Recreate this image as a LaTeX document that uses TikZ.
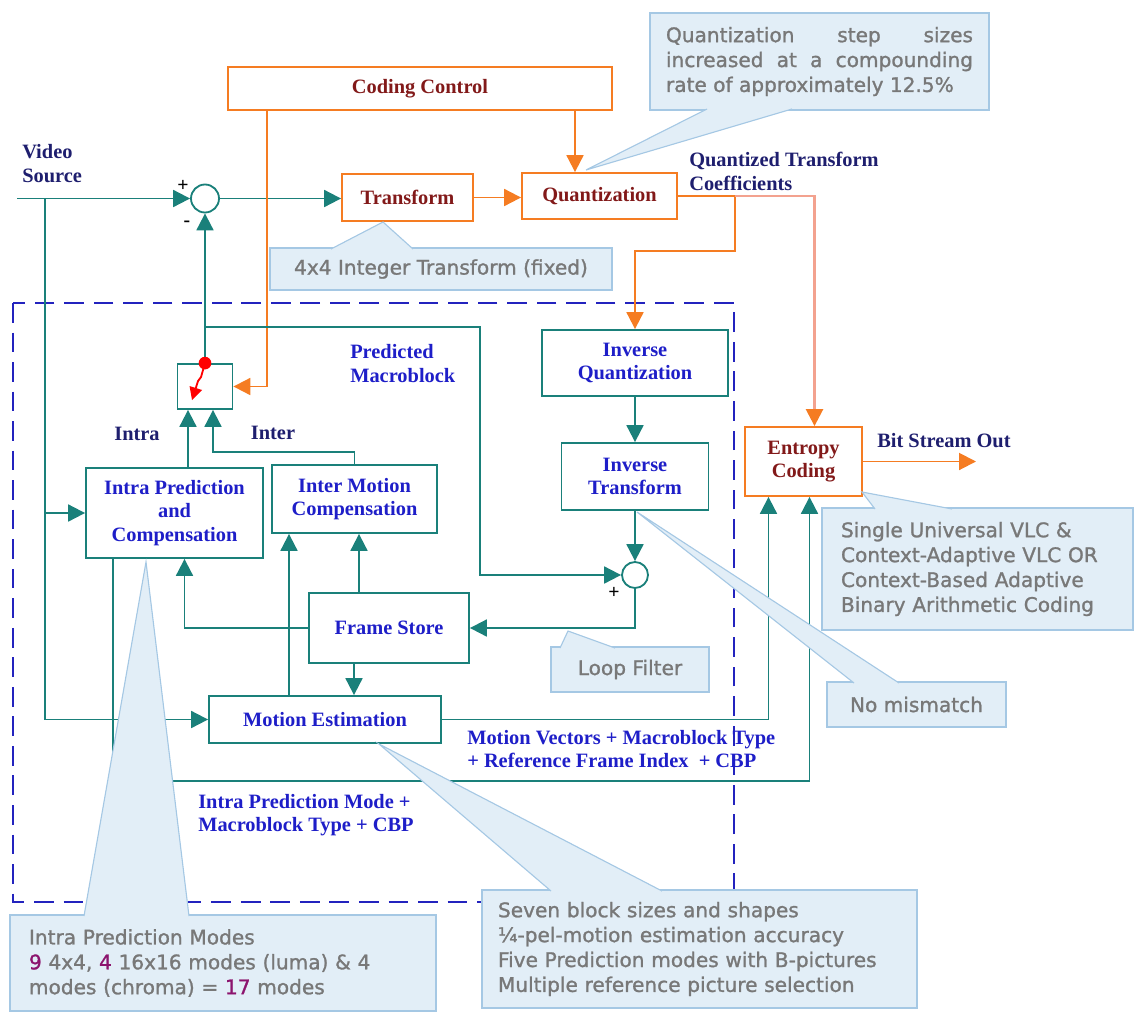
\documentclass[tikz,border=0pt]{standalone}
\usepackage{fontspec}
\setmainfont{Liberation Serif}
\newfontfamily\notefont{DejaVu Sans}[BoldFont={DejaVu Sans}, BoldFeatures={FakeBold=1.2}]
\usetikzlibrary{arrows.meta, calc}

\definecolor{lineteal}{RGB}{26,128,122}
\definecolor{boxorange}{RGB}{245,124,34}
\definecolor{salmon}{RGB}{243,162,143}
\definecolor{textblue}{RGB}{30,30,200}
\definecolor{textnavy}{RGB}{30,30,110}
\definecolor{textred}{RGB}{130,25,25}
\definecolor{notefill}{RGB}{226,238,247}
\definecolor{noteedge}{RGB}{165,200,228}
\definecolor{notetext}{RGB}{120,120,120}
\definecolor{dashblue}{RGB}{35,35,190}
\definecolor{modepurple}{RGB}{140,20,110}

\newcommand\blockfont{\bfseries\fontsize{14.5}{16.5}\selectfont}
\newcommand\notesize{\notefont\bfseries\fontsize{14.3}{17.7}\selectfont}

\tikzset{
  wh/.style 2 args={minimum width=#1*0.025cm, minimum height=#2*0.025cm},
  tealbox/.style={draw=lineteal, line width=1.3pt, fill=white, text=textblue,
    font=\blockfont, align=center, inner sep=1pt},
  orangebox/.style={tealbox, draw=boxorange, text=textred},
  sumnode/.style={circle, draw=lineteal, line width=1.3pt, fill=white,
    minimum size=28*0.025cm, inner sep=0pt},
  lbl/.style={font=\blockfont, text=textnavy, align=left, inner sep=0pt},
  bluelbl/.style={lbl, text=textblue},
  sign/.style={font=\bfseries\fontsize{14}{14}\selectfont, inner sep=0pt},
  tline/.style={draw=lineteal, line width=1.4pt},
  flow/.style={tline, -{Triangle[length=12pt,width=12pt]}},
  oline/.style={draw=boxorange, line width=1.4pt},
  oflow/.style={oline, -{Triangle[length=12pt,width=12pt]}},
  sflow/.style={draw=salmon, line width=1.8pt,
    -{Triangle[length=12pt,width=12pt,color=boxorange]}},
  note/.style={fill=notefill, draw=noteedge, line width=0.8pt, text=notetext,
    font=\notesize, inner sep=0pt, align=center}
}

\begin{document}
\begin{tikzpicture}[x=0.025cm, y=-0.025cm]
    \useasboundingbox (0,0) rectangle (1135,1013);

    % prediction loop frame
    \draw[dashblue, line width=1.5pt, dash pattern=on 14pt off 7pt] (13,303) rectangle (734,902);

    % blocks
    \node[orangebox, wh={384}{43}] (cc) at (420,88.5) {Coding Control};
    \node[sumnode] (sum) at (205,198.5) {};
    \node[orangebox, wh={131}{47}] (tr) at (407.5,197.5) {Transform};
    \node[orangebox, wh={155}{46}] (qz) at (599.5,196) {Quantization};
    \node[tealbox, wh={186}{66}] (iq) at (635,363) {Inverse\\Quantization};
    \node[tealbox, wh={147}{67}] (it) at (635,476.5) {Inverse\\Transform};
    \node[sumnode, minimum size=26*0.025cm] (sum2) at (635,575) {};
    \node[orangebox, wh={117}{69}] (ec) at (803.5,461.5) {Entropy\\Coding};
    \node[tealbox, wh={177}{90}] (ip) at (174.5,513) {Intra Prediction\\and\\Compensation};
    \node[tealbox, wh={165}{68}] (im) at (354.5,499) {Inter Motion\\Compensation};
    \node[tealbox, wh={160}{70}] (fs) at (389,628) {Frame Store};
    \node[tealbox, wh={232}{47}] (me) at (325,719.5) {Motion Estimation};
    \node[tealbox, wh={55}{45}] (sw) at (205,386.5) {};

    % free ends and bends
    \coordinate (vs) at (17,198.5);
    \coordinate (vtap) at (45,198.5);
    \coordinate (ctl) at (267,110);
    \coordinate (qin) at (575,110);
    \coordinate (qtap) at (735,196);
    \coordinate (qbend) at (735,251);
    \coordinate (ptap) at (205,327);
    \coordinate (pright) at (480,327);
    \coordinate (ecq) at ($(ec.north)+(11,0)$);
    \coordinate (swa) at ($(sw.south)+(-17,0)$);
    \coordinate (swb) at ($(sw.south)+(8,0)$);
    \coordinate (ipin) at ($(ip.south)+(10,0)$);
    \coordinate (ipout) at ($(ip.south)+(-61.5,0)$);
    \coordinate (imfs) at ($(im.south)+(4.5,0)$);
    \coordinate (imme) at ($(im.south)+(-65.5,0)$);
    \coordinate (mefs) at ($(me.north)+(29,0)$);
    \coordinate (ecme) at ($(ec.south)+(-35,0)$);
    \coordinate (ecip) at ($(ec.south)+(6,0)$);
    \coordinate (bso) at (976,461.5);

    % forward path
    \draw[flow] (vs) -- (sum.west);
    \draw[flow] (vtap) |- (me.west);
    \draw[flow] (vtap |- ip.west) -- (ip.west);
    \draw[flow] (sum.east) -- (sum.east -| tr.west);
    \draw[oflow] (tr.east) -- (tr.east -| qz.west);
    \draw[oflow] (qin) -- (qin |- qz.north);
    \draw[oflow] (ctl) |- (sw.east);
    \draw[oline] (qz.east) -- (qtap);
    \draw[oflow] (qtap) -- (qbend) -| (iq.north);
    \draw[sflow] (qtap) -| (ecq);
    \draw[oflow] (ec.east) -- (bso);

    % reconstruction loop
    \draw[flow] (iq) -- (it);
    \draw[flow] (it) -- (sum2);
    \draw[flow] (sum2.south) |- (fs.east);
    \draw[flow] (sw.north) -- (sum.south);
    \draw[flow] (ptap) -- (pright) |- (sum2.west);
    \draw[flow] (ip.north -| swa) -- (swa);
    \draw[flow] (im.north) -- ++(0,-12) -| (swb);
    \draw[flow] (fs.west) -| (ipin);
    \draw[flow] (fs.north -| imfs) -- (imfs);
    \draw[flow] (me.north -| imme) -- (imme);
    \draw[flow] (fs.south -| mefs) -- (mefs);
    \draw[flow] (me.east) -| (ecme);
    \draw[flow] (ipout) -- ++(0,222) -| (ecip);

    % switch
    \fill[red] (sw.north) circle (4.5pt);
    \draw[red, line width=1.3pt, -{Triangle[length=9pt,width=9pt]}] (sw.north) -- ++(-4,14) -- ++(-3,4) -- ++(-6,19);

    % labels
    \node[lbl, anchor=west] (vsrc) at (22,163.5) {Video\\Source};
    \node[lbl, anchor=west] (qtc) at (689,171.5) {Quantized Transform\\Coefficients};
    \node[lbl, anchor=west] (bits) at (877,441) {Bit Stream Out};
    \node[lbl] (intra) at (137,434) {Intra};
    \node[lbl] (inter) at (273,433) {Inter};
    \node[bluelbl, anchor=west] (pmb) at (350,363.5) {Predicted\\Macroblock};
    \node[bluelbl, anchor=west] (mvl) at (467,749) {Motion Vectors + Macroblock Type\\+ Reference Frame Index~ + CBP};
    \node[bluelbl, anchor=west] (ipl) at (198,815) {Intra Prediction Mode +\\Macroblock Type + CBP};
    \node[sign] (p1) at (183,186) {+};
    \node[sign] (m1) at (187,224) {-};
    \node[sign] (p2) at (614,593) {+};

    % callouts
    \node[note, wh={339}{97}, text width=307*0.025cm, align=justify] (qnote) at (819.5,61.5)
      {Quantization step sizes\linebreak increased at a compounding\linebreak rate of approximately 12.5\%};
    \node[note, wh={342}{42}] (tnote) at (441,269) {4x4 Integer Transform (fixed)};
    \node[note, wh={158}{45}] (lfnote) at (630,669.5) {Loop Filter};
    \node[note, wh={179}{45}] (nmnote) at (916.5,704.5) {No mismatch};
    \node[note, wh={311}{122}, text width=273*0.025cm, align=left] (ecnote) at (977.5,569)
      {Single Universal VLC \&\\Context-Adaptive VLC OR\\Context-Based Adaptive\\Binary Arithmetic Coding};
    \node[note, wh={435}{118}, text width=403*0.025cm, align=left] (menote) at (699.5,949)
      {Seven block sizes and shapes\\¼-pel-motion estimation accuracy\\Five Prediction modes with B-pictures\\Multiple reference picture selection};
    \node[note, wh={426}{96}, text width=388*0.025cm, align=left] (ipnote) at (223,963)
      {Intra Prediction Modes\\{\color{modepurple}9} 4x4, {\color{modepurple}4} 16x16 modes (luma) \& 4\\modes (chroma) = {\color{modepurple}17} modes};

    % callout pointers
    \foreach \ax/\bx/\by/\tx/\ty in {707/792/109/586/170, 331/413/249/383/222,
        560/615/648/568/631, 854/899/683/637/512, 875/952/509/862/492,
        551/662/891/379/744, 84/189/916/146/562}{
      \fill[notefill] (\ax,\by) -- (\tx,\ty) -- (\bx,\by) -- cycle;
      \draw[noteedge, line width=0.8pt] (\ax,\by) -- (\tx,\ty) -- (\bx,\by);
    }
\end{tikzpicture}
\end{document}
